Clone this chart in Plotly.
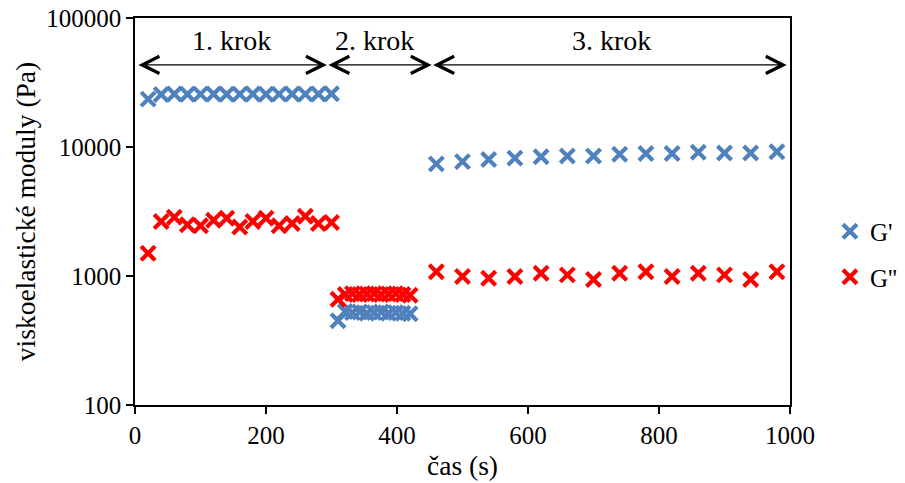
import plotly.graph_objects as go
import math

# ---- data ----
time_s = [20, 40, 60, 80, 100, 120, 140, 160, 180, 200, 220, 240, 260, 280, 300,
          310, 321, 332, 343, 354, 365, 376, 387, 398, 409, 420,
          460, 500, 540, 580, 620, 660, 700, 740, 780, 820, 860, 900, 940, 980]
g_storage = [23500, 25500, 25800, 25600, 25700, 25800, 25600, 25700, 25800, 25600, 25700, 25800, 25700, 25800, 25900,
             450, 530, 520, 525, 515, 520, 525, 515, 520, 515, 510,
             7400, 7700, 8000, 8200, 8400, 8500, 8500, 8800, 8900, 8900, 9100, 9000, 9000, 9200]
g_loss = [1500, 2650, 2850, 2500, 2450, 2700, 2800, 2400, 2650, 2800, 2450, 2550, 2900, 2550, 2600,
          660, 720, 730, 720, 725, 730, 720, 725, 730, 720, 710,
          1080, 990, 960, 990, 1050, 1020, 940, 1050, 1080, 990, 1050, 1020, 940, 1080]
series_names = ["G'", "G''"]
series_colors = ["#4F81BD", "#FF0000"]

y_tick_vals = [100, 1000, 10000, 100000]
y_tick_text = ["100", "1000", "10000", "100000"]

step_labels = ["1. krok", "2. krok", "3. krok"]
step_bounds = [(3, 293), (293, 453), (453, 995)]
step_label_x = [148, 366, 728]
step_label_y = 67500
step_arrow_y = 43300

FONT = "Liberation Serif, Times New Roman, serif"

fig = go.Figure()
for i, (name, vals) in enumerate(zip(series_names, [g_storage, g_loss])):
    fig.add_trace(go.Scatter(
        x=time_s, y=vals, mode="markers", name=name,
        legendgroup=name,
        marker=dict(symbol="x-thin", size=14, color=series_colors[i],
                    line=dict(width=4.2, color=series_colors[i])),
    ))

annotations = []
for lbl, lx in zip(step_labels, step_label_x):
    annotations.append(dict(x=lx, y=math.log10(step_label_y), xref="x", yref="y",
                            text=lbl, showarrow=False,
                            font=dict(family=FONT, size=28, color="black")))
for (a, b) in step_bounds:
    annotations.append(dict(x=b, y=math.log10(step_arrow_y), ax=a, ay=math.log10(step_arrow_y),
                            xref="x", yref="y", axref="x", ayref="y",
                            text="", showarrow=True, arrowside="end+start",
                            arrowhead=5, startarrowhead=5, arrowsize=2.6, startarrowsize=2.6,
                            arrowwidth=1.3, arrowcolor="black"))

fig.update_layout(
    width=897, height=475,
    margin=dict(l=127, r=115, t=10, b=78, autoexpand=False),
    paper_bgcolor="white", plot_bgcolor="white",
    font=dict(family=FONT, size=25, color="black"),
    showlegend=True,
    legend=dict(x=1.061, y=0.39, xanchor="left", yanchor="middle",
                traceorder="grouped", tracegroupgap=10,
                font=dict(family=FONT, size=25), itemwidth=30,
                bgcolor="rgba(0,0,0,0)"),
    annotations=annotations,
)
fig.update_xaxes(range=[0, 1000], dtick=200, showgrid=False, zeroline=False,
                 showline=True, linecolor="black", linewidth=1.5, mirror=True,
                 ticks="outside", ticklen=7, tickcolor="black", tickwidth=1.5,
                 tickfont=dict(family=FONT, size=25), ticklabeloverflow="allow",
                 title=dict(text="čas (s)", font=dict(family=FONT, size=27.5), standoff=8))
fig.update_yaxes(type="log", range=[2, 5], tickvals=y_tick_vals, ticktext=y_tick_text,
                 showgrid=False, zeroline=False,
                 showline=True, linecolor="black", linewidth=1.5, mirror=True,
                 ticks="outside", ticklen=7, tickcolor="black", tickwidth=1.5,
                 tickfont=dict(family=FONT, size=25), ticklabeloverflow="allow",
                 title=dict(text="viskoelastické moduly (Pa)", font=dict(family=FONT, size=27.5), standoff=3))

fig.write_html("out.html")
